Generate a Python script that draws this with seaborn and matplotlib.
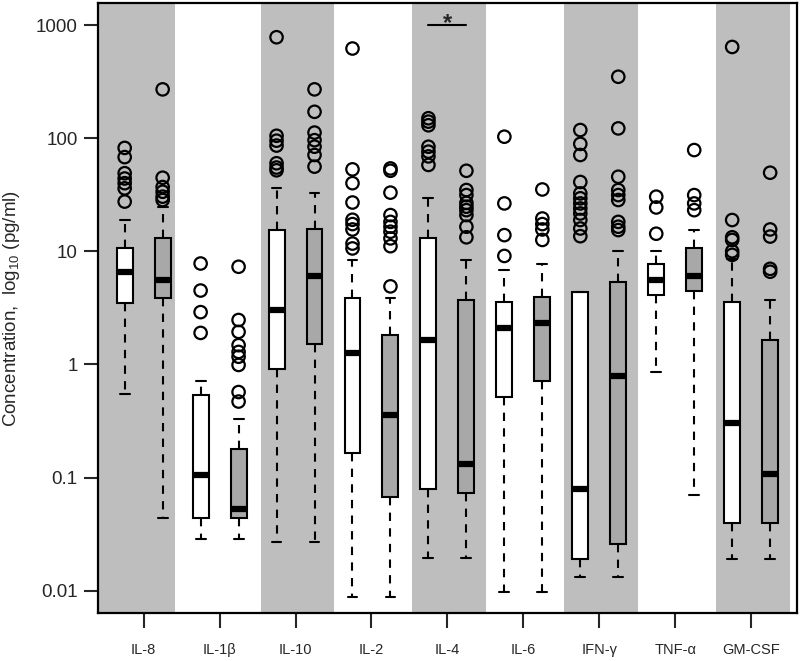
import numpy as np
import pandas as pd
import matplotlib
matplotlib.use("Agg")
import matplotlib.pyplot as plt
import seaborn as sns

cytokines = ["IL-8", "IL-1β", "IL-10", "IL-2", "IL-4", "IL-6", "IFN-γ", "TNF-α", "GM-CSF"]

# white boxes (first group)
white_q1 = [3.5, 0.0435, 0.92, 0.166, 0.08, 0.52, 0.0192, 4.1, 0.04]
white_med = [6.5, 0.105, 3.0, 1.27, 1.64, 2.08, 0.08, 5.56, 0.305]
white_q3 = [10.6, 0.54, 15.4, 3.9, 13.2, 3.58, 4.4, 7.8, 3.58]
white_lo = [0.55, 0.0284, 0.027, 0.0088, 0.0195, 0.0098, 0.0133, 0.85, 0.0192]
white_hi = [18.9, 0.72, 36, 8.4, 29.4, 6.9, 4.4, 10.0, 8.5]
white_out = [
    [82, 68, 49, 44, 40, 36, 27.5],
    [7.8, 4.5, 2.9, 1.9],
    [780, 105, 95, 86, 60, 55, 52],
    [620, 53, 40, 27, 19, 17.4, 15.6, 11.7, 10.6],
    [150, 140, 130, 84, 76, 69, 58],
    [103, 26.5, 13.9, 9.1],
    [118, 89, 71, 41, 32.5, 29.4, 26.5, 23.9, 21.6, 18.9, 15.9, 13.6],
    [30.4, 24.4, 14.3],
    [640, 18.9, 13.3, 12.6, 10, 9.3],
]

# grey boxes (second group)
grey_q1 = [3.9, 0.0435, 1.53, 0.0675, 0.073, 0.72, 0.026, 4.5, 0.04]
grey_med = [5.6, 0.053, 6.0, 0.36, 0.133, 2.33, 0.79, 6.0, 0.107]
grey_q3 = [13.2, 0.18, 15.8, 1.82, 3.7, 3.96, 5.3, 10.7, 1.66]
grey_lo = [0.0435, 0.0284, 0.027, 0.0088, 0.0195, 0.0098, 0.0133, 0.07, 0.0192]
grey_hi = [24.4, 0.327, 33, 3.85, 8.4, 7.8, 10, 15.4, 3.7]
grey_out = [
    [270, 44.7, 37, 33.6, 30.4, 28.4],
    [7.3, 2.47, 1.94, 1.48, 1.29, 1.17, 0.99, 0.57, 0.47],
    [270, 171, 112, 96, 84, 71, 56],
    [54, 51.5, 33, 20.9, 18.2, 16.5, 14.9, 13, 11.1, 4.9],
    [51.5, 34.8, 31.4, 26.8, 24.8, 23.1, 20.9, 16.5, 13.3],
    [35.2, 19.5, 17.4, 15.6, 12.6],
    [349, 122, 45.6, 34.8, 31.4, 28.4, 18.2, 16.5, 15.4],
    [78.5, 31.4, 26.5, 23.1],
    [49.5, 15.6, 13.5, 7.0, 6.6],
]

sig_group = 4  # IL-4 marked with *

sns.set_style("white")
plt.rcParams["font.family"] = ["Liberation Sans", "DejaVu Sans"]
plt.rcParams["mathtext.default"] = "regular"

band_color = "#BEBEBE"
box_grey = "#A8A8A8"
offset = 0.25

fig = plt.figure(figsize=(8, 6.61), dpi=100)
ax = fig.add_axes([0.1231, 0.0721, 0.8728, 0.9229])

# alternating background bands
for i in range(0, len(cytokines), 2):
    left = -0.6 if i == 0 else i - 0.46
    right = i + 0.41 if i == 0 else i + 0.51
    ax.axvspan(left, right, color=band_color, lw=0, zorder=0)

x = np.arange(len(cytokines))


def make_stats(q1, med, q3, lo, hi):
    return [dict(q1=a, med=b, q3=c, whislo=d, whishi=e, fliers=[])
            for a, b, c, d, e in zip(q1, med, q3, lo, hi)]


common = dict(widths=0.21, showfliers=False, patch_artist=True,
              medianprops=dict(color="black", lw=4.5, solid_capstyle="butt"),
              whiskerprops=dict(color="black", lw=1.5, linestyle=(0, (4, 3.5))),
              capprops=dict(color="black", lw=1.5),
              capwidths=0.13, manage_ticks=False, zorder=3)

ax.bxp(make_stats(white_q1, white_med, white_q3, white_lo, white_hi),
       positions=x - offset,
       boxprops=dict(facecolor="white", edgecolor="black", lw=1.5), **common)
ax.bxp(make_stats(grey_q1, grey_med, grey_q3, grey_lo, grey_hi),
       positions=x + offset,
       boxprops=dict(facecolor=box_grey, edgecolor="black", lw=1.5), **common)

# outliers
rows = []
for i, vals in enumerate(white_out):
    rows += [(i - offset, v) for v in vals]
for i, vals in enumerate(grey_out):
    rows += [(i + offset, v) for v in vals]
df_out = pd.DataFrame(rows, columns=["pos", "value"])
sns.scatterplot(data=df_out, x="pos", y="value", ax=ax, marker="o", s=80,
                facecolor="none", edgecolor="black", linewidth=1.6, zorder=4)

ax.set_yscale("log")
ax.set_ylim(10 ** -2.2, 10 ** 3.192)
ax.set_xlim(-0.595, 8.6)

ax.set_yticks([0.01, 0.1, 1, 10, 100, 1000])
ax.set_yticklabels(["0.01", "0.1", "1", "10", "100", "1000"])
ax.minorticks_off()
ax.set_xticks(x)
ax.set_xticklabels(cytokines)
ax.tick_params(axis="y", length=10, width=1.5, labelsize=13.5, pad=5, direction="out", left=True)
ax.tick_params(axis="x", length=10.5, width=1.5, labelsize=10.5, pad=11, direction="out", bottom=True)
ax.set_xlabel("")
ax.set_ylabel("Concentration,  log$_{10}$ (pg/ml)", fontsize=13.5, labelpad=6)
ax.yaxis.set_label_coords(-0.11, 0.5)

for s in ax.spines.values():
    s.set_visible(True)
    s.set_color("black")
    s.set_linewidth(1.6)

# significance bar
ax.plot([sig_group - offset, sig_group + offset], [1000, 1000], color="black", lw=1.5, zorder=5)
ax.text(sig_group, 820, "*", ha="center", va="bottom", fontsize=17, fontweight="bold")

fig.savefig("out.png", dpi=100)
